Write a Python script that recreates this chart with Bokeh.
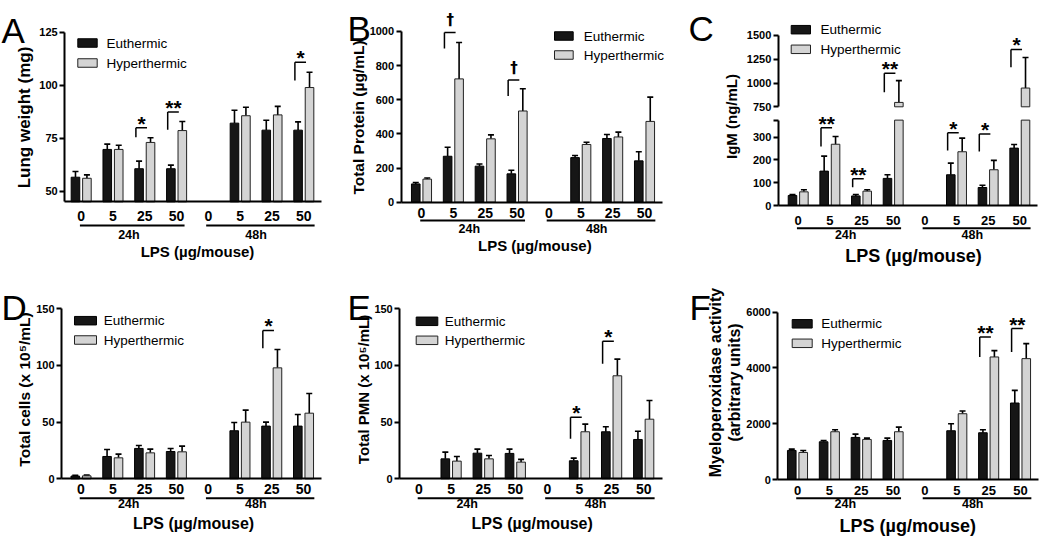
import math
from bokeh.plotting import figure
from bokeh.models import Range1d, LinearAxis, FixedTicker, ColumnDataSource, Whisker, TeeHead
from bokeh.layouts import row, column
from bokeh.embed import file_html
from bokeh.resources import INLINE
from bokeh.core.properties import value

NAN = float("nan")

# ---------------- data ----------------
doses = ["0", "5", "25", "50", "0", "5", "25", "50"]
times = ["24h", "48h"]
series = ["Euthermic", "Hyperthermic"]

# A  Lung weight (mg)
lung_eu = [56.6, 69.7, 60.6, 60.6, NAN, 82.1, 78.8, 78.8]
lung_eu_sem = [2.7, 2.5, 3.6, 1.7, NAN, 6.1, 4.7, 3.9]
lung_hy = [56.1, 69.7, 73.0, 78.6, NAN, 85.6, 86.0, 98.9]
lung_hy_sem = [1.6, 2.0, 2.2, 4.3, NAN, 4.0, 4.0, 7.2]
lung_sig_group = [2, 3, 7]
lung_sig_label = ["*", "**", "*"]
lung_sig_low = [75.5, 79.0, 102.2]
lung_sig_high = [79.9, 87.3, 110.8]

# B  Total protein (ug/mL)
prot_eu = [107, 269, 211, 166, NAN, 261, 373, 242]
prot_eu_sem = [8, 53, 13, 21, NAN, 12, 23, 53]
prot_hy = [135, 722, 371, 534, NAN, 338, 382, 473]
prot_hy_sem = [7, 213, 23, 130, NAN, 13, 28, 142]
prot_sig_group = [1, 3]
prot_sig_label = ["\u2020", "\u2020"]
prot_sig_low = [900, 622]
prot_sig_high = [994, 716]

# C  IgM (ng/mL)
igm_eu = [44, 151, 42, 119, NAN, 135, 79, 252]
igm_eu_sem = [4, 66, 6, 16, NAN, 51, 10, 16]
igm_hy = [60, 269, 63, 796, NAN, 236, 157, 947]
igm_hy_sem = [9, 34, 6, 229, NAN, 60, 41, 321]
igm_sig_group = [1, 2, 3, 5, 6, 7]
igm_sig_label = ["**", "**", "**", "*", "*", "*"]
igm_sig_low = [259, 80, 903, 241, 237, 1166]
igm_sig_high = [341, 117, 1103, 319, 314, 1352]

# D  Total cells (x10^5/mL)
cells_eu = [2.4, 19.7, 26.8, 24.1, NAN, 42.4, 46.5, 46.5]
cells_eu_sem = [0.6, 6.2, 2.6, 2.7, NAN, 7.3, 3.5, 10.3]
cells_hy = [2.6, 18.5, 22.9, 23.8, NAN, 50.0, 97.9, 57.9]
cells_hy_sem = [0.6, 3.3, 3.3, 5.0, NAN, 10.6, 16.2, 17.4]
cells_sig_group = [6]
cells_sig_label = ["*"]
cells_sig_low = [115.3]
cells_sig_high = [130.9]

# E  Total PMN (x10^5/mL)
pmn_eu = [NAN, 17.6, 22.6, 22.4, NAN, 15.9, 41.5, 34.7]
pmn_eu_sem = [NAN, 5.9, 3.6, 3.8, NAN, 2.3, 4.4, 7.3]
pmn_hy = [NAN, 15.6, 17.6, 14.7, NAN, 41.5, 90.9, 52.6]
pmn_hy_sem = [NAN, 4.1, 3.0, 2.4, NAN, 6.7, 14.7, 16.5]
pmn_sig_group = [5, 6]
pmn_sig_label = ["*", "*"]
pmn_sig_low = [35.3, 101.5]
pmn_sig_high = [54.4, 121.4]

# F  Myeloperoxidase activity (arbitrary units)
mpo_eu = [1042, 1353, 1509, 1401, NAN, 1749, 1677, 2743]
mpo_eu_sem = [48, 48, 120, 84, NAN, 251, 107, 455]
mpo_hy = [970, 1713, 1437, 1713, NAN, 2359, 4395, 4335]
mpo_hy_sem = [72, 71, 48, 167, NAN, 96, 228, 539]
mpo_sig_group = [6, 7]
mpo_sig_label = ["**", "**"]
mpo_sig_low = [4395, 4575]
mpo_sig_high = [5114, 5413]

# ---------------- styling / layout ----------------
FONT_NAME = "Liberation Sans"
FONT = value(FONT_NAME)
EU_FILL, EU_LINE = "#161616", "#000000"
HY_FILL, HY_LINE = "#d4d4d4", "#222222"
BAR_W, BAR_OFF = 0.27, 0.18
COLS = [0, 346, 686, 1048]
ROWS = [0, 270, 539]

PANELS = [
    dict(letter="A", col=0, row=0, gx=80.7, ppx=31.8, ymap=(190.7, 50, 2.12),
         xl=-0.52, xr=7.56, yb=45, yt=125, ticks=[50, 75, 100, 125],
         ylab=[("Lung weight (mg)", 24, 117)], ylab_size=17, letter_pos=(1, 30),
         leg=(77.3, 96.7, 42.5, 62.5, 106), xtick_size=14, xtick_stand=9,
         uline=225, glab=234.3, lps=(197, 250.7, 15),
         data=(lung_eu, lung_eu_sem, lung_hy, lung_hy_sem),
         sig=(lung_sig_group, lung_sig_label, lung_sig_low, lung_sig_high)),
    dict(letter="B", col=1, row=0, gx=421, ppx=31.86, ymap=(201.7, 0, 0.1708),
         xl=-0.64, xr=7.55, yb=0, yt=1000, ticks=[0, 200, 400, 600, 800, 1000],
         ylab=[("Total Protein (\u00b5g/mL)", 357.5, 117)], ylab_size=15.5,
         letter_pos=(347, 28),
         leg=(554, 572.7, 35.5, 54.5, 583.3), xtick_size=14, xtick_stand=6,
         uline=220, glab=228.7, lps=(534.3, 245, 15),
         data=(prot_eu, prot_eu_sem, prot_hy, prot_hy_sem),
         sig=(prot_sig_group, prot_sig_label, prot_sig_low, prot_sig_high)),
    dict(letter="C", col=2, row=0, gx=797.7, ppx=31.66, ymap=(205, 0, 0.2277),
         ymap_up=(106.3, 750, 0.0952), brk=375, up0=750,
         xl=-0.63, xr=7.57, yb=0, yt=375, ticks=[0, 100, 200, 300, 375],
         up_ticks=[750, 1000, 1250, 1500], yt_up=1500,
         ylab=[("IgM (ng/mL)", 731, 116)], ylab_size=15, letter_pos=(688, 28.3),
         leg=(790.7, 810, 29.2, 48.8, 820), xtick_size=13, xtick_stand=10,
         uline=227.7, glab=234.7, lps=(913, 255, 18),
         data=(igm_eu, igm_eu_sem, igm_hy, igm_hy_sem),
         sig=(igm_sig_group, igm_sig_label, igm_sig_low, igm_sig_high)),
    dict(letter="D", col=0, row=1, gx=80.5, ppx=31.79, ymap=(478.3, 0, 1.1333),
         xl=-0.61, xr=7.56, yb=0, yt=150, ticks=[0, 50, 100, 150],
         ylab=[("Total cells (x 10\u2075/mL)", 24, 389)], ylab_size=15.5, letter_pos=(1, 307),
         leg=(74, 96, 320.2, 339.5, 103.3), xtick_size=14, xtick_stand=5,
         uline=497.7, glab=503.7, lps=(193, 523, 16),
         data=(cells_eu, cells_eu_sem, cells_hy, cells_hy_sem),
         sig=(cells_sig_group, cells_sig_label, cells_sig_low, cells_sig_high)),
    dict(letter="E", col=1, row=1, gx=418.5, ppx=32.1, ymap=(478.3, 0, 1.1333),
         xl=-0.6, xr=7.58, yb=0, yt=150, ticks=[0, 50, 100, 150],
         ylab=[("Total PMN (x 10\u2075/mL)", 363, 389)], ylab_size=15, letter_pos=(347, 307),
         leg=(415.7, 437.3, 320.8, 339.8, 444.3), xtick_size=14, xtick_stand=5,
         uline=497.7, glab=503.3, lps=(531.7, 523, 16),
         data=(pmn_eu, pmn_eu_sem, pmn_hy, pmn_hy_sem),
         sig=(pmn_sig_group, pmn_sig_label, pmn_sig_low, pmn_sig_high)),
    dict(letter="F", col=2, row=1, gx=797, ppx=31.86, ymap=(479, 0, 0.02788),
         xl=-0.62, xr=7.57, yb=0, yt=6000, ticks=[0, 2000, 4000, 6000],
         ylab=[("Myeloperoxidase activity", 715, 382), ("(arbitrary units)", 734, 382)],
         ylab_size=16, letter_pos=(689, 307),
         leg=(791.7, 811.7, 323.3, 342.8, 820.7), xtick_size=13, xtick_stand=6,
         uline=497.7, glab=503.3, lps=(907.3, 525.5, 18),
         data=(mpo_eu, mpo_eu_sem, mpo_hy, mpo_hy_sem),
         sig=(mpo_sig_group, mpo_sig_label, mpo_sig_low, mpo_sig_high)),
]


def yaxis(fixed_x, bounds, ticks, range_name="default", overrides=None):
    ax = LinearAxis(fixed_location=fixed_x, bounds=bounds, y_range_name=range_name,
                    ticker=FixedTicker(ticks=ticks, minor_ticks=[]),
                    axis_line_width=2, axis_line_color="black",
                    major_tick_out=5, major_tick_in=0, major_tick_line_width=2,
                    minor_tick_out=0, minor_tick_in=0, major_label_standoff=2,
                    major_label_text_font=FONT_NAME, major_label_text_font_style="bold",
                    major_label_text_font_size="11px", major_label_text_color="black")
    if overrides:
        ax.major_label_overrides = overrides
    return ax


def make_panel(L):
    X0, X1 = COLS[L["col"]], COLS[L["col"] + 1]
    Y0, Y1 = ROWS[L["row"]], ROWS[L["row"] + 1]
    w, h = X1 - X0, Y1 - Y0
    gx, ppx = L["gx"], L["ppx"]

    def xd(X):
        return (X - gx) / ppx

    def yd(Y, m):
        return m[1] + (m[0] - Y) / m[2]

    m = L["ymap"]
    p = figure(width=w, height=h, x_range=Range1d(xd(X0), xd(X1)),
               y_range=Range1d(yd(Y1, m), yd(Y0, m)), min_border=0, title=None,
               toolbar_location=None, output_backend="svg", x_axis_type=None,
               y_axis_type=None, outline_line_color=None,
               background_fill_color="white", border_fill_color="white")
    extra_y = {"px": Range1d(h, 0)}
    if "ymap_up" in L:
        mu = L["ymap_up"]
        extra_y["up"] = Range1d(yd(Y1, mu), yd(Y0, mu))
    p.extra_x_ranges = {"px": Range1d(0, w)}
    p.extra_y_ranges = extra_y

    def lx(X):
        return X - X0

    def ly(Y):
        return Y - Y0

    brk = L.get("brk")
    up0 = L.get("up0")
    eu, eu_sem, hy, hy_sem = L["data"]
    base = L["yb"]
    for vals, sems, off, fill, line in ((eu, eu_sem, -BAR_OFF, EU_FILL, EU_LINE),
                                        (hy, hy_sem, BAR_OFF, HY_FILL, HY_LINE)):
        idx = [i for i in range(8) if not math.isnan(vals[i])]
        xs = [i + off for i in idx]
        tops = [vals[i] for i in idx]
        ups = [vals[i] + sems[i] for i in idx]
        low_tops = [min(t, brk) if brk else t for t in tops]
        p.vbar(x=xs, width=BAR_W, bottom=base, top=low_tops, fill_color=fill,
               line_color=line, line_width=1)
        low_i = [k for k in range(len(xs)) if not (brk and tops[k] > brk)]
        up_i = [k for k in range(len(xs)) if brk and tops[k] > brk]
        src = ColumnDataSource(dict(x=[xs[k] for k in low_i], lower=[tops[k] for k in low_i],
                                    upper=[ups[k] for k in low_i]))
        p.add_layout(Whisker(source=src, base="x", lower="lower", upper="upper",
                             dimension="height", line_color="black", line_width=1.6,
                             lower_head=None,
                             upper_head=TeeHead(size=6, line_width=1.6, line_color="black")))
        if up_i:
            ux = [xs[k] for k in up_i]
            p.vbar(x=ux, width=BAR_W, bottom=up0, top=[tops[k] for k in up_i],
                   fill_color=fill, line_color=line, line_width=1, y_range_name="up")
            src2 = ColumnDataSource(dict(x=ux, lower=[tops[k] for k in up_i],
                                         upper=[ups[k] for k in up_i]))
            p.add_layout(Whisker(source=src2, base="x", lower="lower", upper="upper",
                                 dimension="height", line_color="black", line_width=1.6,
                                 lower_head=None, y_range_name="up",
                                 upper_head=TeeHead(size=6, line_width=1.6, line_color="black")))

    # significance brackets
    g, lab, lo, hi = L["sig"]
    for k in range(len(g)):
        rn = "up" if (brk and hi[k] > brk) else "default"
        mm = L["ymap_up"] if rn == "up" else m
        xl_, xr_ = g[k] - 0.28, g[k] + 0.07
        p.segment(x0=[xl_, xl_], x1=[xl_, xr_], y0=[lo[k], hi[k]], y1=[hi[k], hi[k]],
                  line_color="black", line_width=1.5, y_range_name=rn)
        if lab[k] == "\u2020":
            p.text(x=[g[k] - 0.1], y=[hi[k] + 3 / mm[2]], text=[lab[k]], y_range_name=rn,
                   text_font=value("DejaVu Sans"), text_font_style="bold",
                   text_font_size="15px", text_align="center", text_baseline="bottom",
                   text_color="black")
        else:
            p.text(x=[g[k] - 0.1], y=[hi[k] + 4.5 / mm[2]], text=[lab[k]], y_range_name=rn,
                   text_font=FONT, text_font_style="bold", text_font_size="21px",
                   text_align="center", text_baseline="alphabetic", text_color="black")

    # axes
    p.add_layout(yaxis(L["xl"], (L["yb"], L["yt"]), L["ticks"],
                       overrides={375: ""} if brk else None), "left")
    if brk:
        p.add_layout(yaxis(L["xl"], (up0, L["yt_up"]), L["up_ticks"], range_name="up"), "left")
    xax = LinearAxis(fixed_location=L["yb"], bounds=(L["xl"], L["xr"]),
                     ticker=FixedTicker(ticks=list(range(8)), minor_ticks=[]),
                     major_label_overrides={i: doses[i] for i in range(8)},
                     axis_line_width=2, axis_line_color="black",
                     major_tick_out=0, major_tick_in=0, minor_tick_out=0, minor_tick_in=0,
                     major_label_standoff=L["xtick_stand"], major_label_text_font=FONT_NAME,
                     major_label_text_font_style="bold",
                     major_label_text_font_size=f"{L['xtick_size']}px",
                     major_label_text_color="black")
    p.add_layout(xax, "below")

    # time-group underlines and labels
    p.segment(x0=[-0.04, 3.93], x1=[3.25, 7.34], y0=[ly(L["uline"])] * 2,
              y1=[ly(L["uline"])] * 2, line_color="black", line_width=2, y_range_name="px")
    p.text(x=[1.5, 5.5], y=[ly(L["glab"])] * 2, text=times, y_range_name="px",
           text_font=FONT, text_font_style="bold", text_font_size="12.5px",
           text_align="center", text_baseline="middle", text_color="black")
    lpx, lpy, lps = L["lps"]
    p.text(x=[lx(lpx)], y=[ly(lpy)], text=["LPS (\u00b5g/mouse)"], x_range_name="px",
           y_range_name="px", text_font=FONT, text_font_style="bold",
           text_font_size=f"{lps}px", text_align="center", text_baseline="middle",
           text_color="black")

    # y-axis title
    for t, cx, cy in L["ylab"]:
        p.text(x=[lx(cx)], y=[ly(cy)], text=[t], x_range_name="px", y_range_name="px",
               angle=math.pi / 2, text_font=FONT, text_font_style="bold",
               text_font_size=f"{L['ylab_size']}px", text_align="center",
               text_baseline="middle", text_color="black")

    # panel letter
    ltx, lty = L["letter_pos"]
    p.text(x=[lx(ltx)], y=[ly(lty)], text=[L["letter"]], x_range_name="px",
           y_range_name="px", text_font=FONT, text_font_size="35px",
           text_align="left", text_baseline="alphabetic", text_color="black")

    # legend
    sx0, sx1, ye, yh, tx = L["leg"]
    p.rect(x=[lx((sx0 + sx1) / 2)] * 2, y=[ly(ye), ly(yh)], width=sx1 - sx0, height=8.5,
           fill_color=[EU_FILL, HY_FILL], line_color=[EU_LINE, HY_LINE], line_width=1,
           x_range_name="px", y_range_name="px")
    p.text(x=[lx(tx)] * 2, y=[ly(ye), ly(yh)], text=series, x_range_name="px",
           y_range_name="px", text_font=FONT, text_font_size="13.5px",
           text_align="left", text_baseline="middle", text_color="black")
    return p


figs = [make_panel(L) for L in PANELS]
layout = column(row(*figs[:3]), row(*figs[3:]))
open("out.html", "w").write(file_html(layout, INLINE))
